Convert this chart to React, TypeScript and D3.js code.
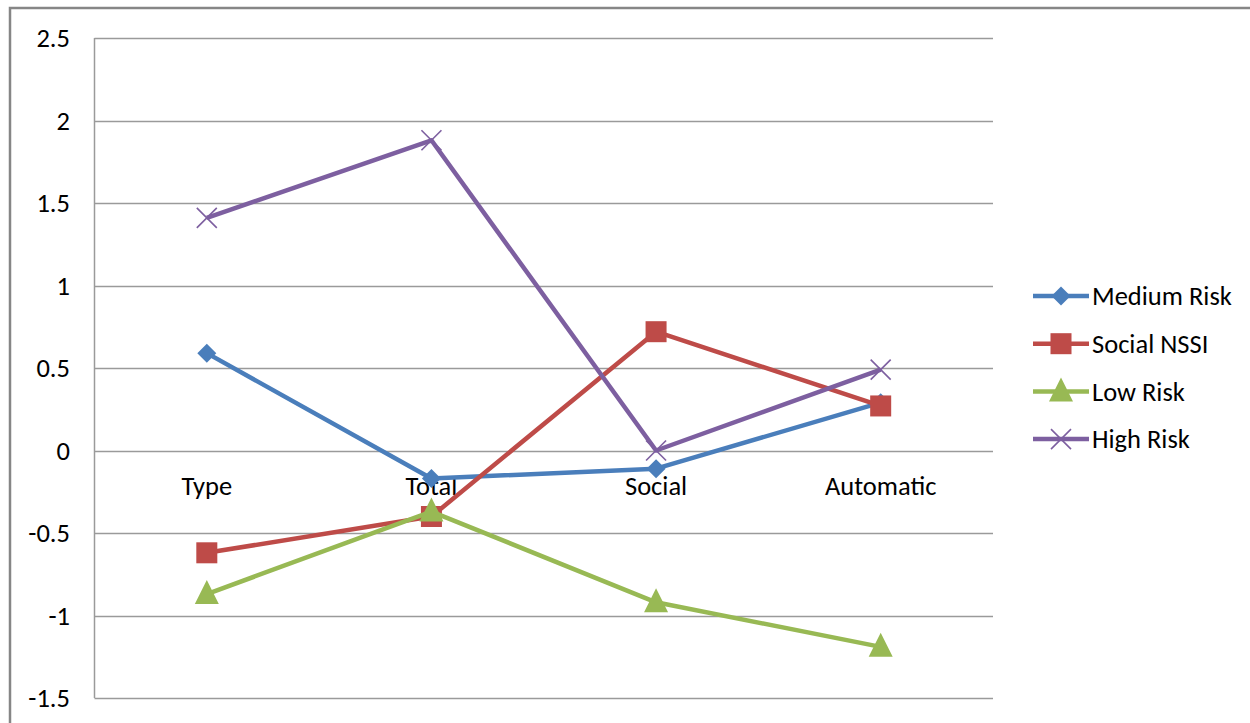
import React from "react";
import * as d3 from "d3";

const categories = ["Type", "Total", "Social", "Automatic"];
const seriesNames = ["Medium Risk", "Social NSSI", "Low Risk", "High Risk"];
const mediumRisk = [0.59, -0.17, -0.11, 0.29];
const socialNSSI = [-0.62, -0.4, 0.72, 0.27];
const lowRisk = [-0.87, -0.37, -0.92, -1.19];
const highRisk = [1.41, 1.88, 0.0, 0.49];
const yTicks = [-1.5, -1, -0.5, 0, 0.5, 1, 1.5, 2, 2.5];
const colors = ["#4A7EBB", "#BE4B48", "#98B954", "#7D5FA0"];
const markers = ["diamond", "square", "triangle", "x"];

const allSeries = [mediumRisk, socialNSSI, lowRisk, highRisk];

function Marker({ type, x, y, color }: { type: string; x: number; y: number; color: string }) {
  if (type === "diamond") {
    const s = 9.5;
    return <path d={`M${x},${y - s}L${x + s},${y}L${x},${y + s}L${x - s},${y}Z`} fill={color} />;
  }
  if (type === "square") {
    const s = 10.5;
    return <rect x={x - s} y={y - s} width={2 * s} height={2 * s} fill={color} />;
  }
  if (type === "triangle") {
    return <path d={`M${x},${y - 14}L${x + 12},${y + 10}L${x - 12},${y + 10}Z`} fill={color} />;
  }
  const s = 10;
  return (
    <path
      d={`M${x - s},${y - s}L${x + s},${y + s}M${x - s},${y + s}L${x + s},${y - s}`}
      stroke={color}
      strokeWidth={1.6}
      fill="none"
    />
  );
}

export default function App() {
  const W = 1250;
  const H = 723;
  const left = 94.5;
  const right = 993;
  const top = 38;
  const bottom = 698;
  const font = "Carlito, Calibri, 'Liberation Sans', sans-serif";
  const fs = 26.5;

  const x = d3.scaleBand<string>().domain(categories).range([left, right]).paddingInner(0).paddingOuter(0);
  const y = d3.scaleLinear().domain([-1.5, 2.5]).range([bottom, top]);
  const cx = (c: string) => (x(c) as number) + x.bandwidth() / 2;
  const line = d3
    .line<number>()
    .x((_, i) => cx(categories[i]))
    .y((d) => y(d));

  return (
    <svg width={W} height={H} style={{ position: "absolute", left: 0, top: 0 }}>
      <rect x={0} y={0} width={W} height={H} fill="#fff" />
      <path d={`M10,${H}L10,8L${W},8`} stroke="#868686" strokeWidth={2.5} fill="none" />
      {yTicks.map((t) => (
        <g key={t}>
          <line x1={left} x2={right} y1={Math.round(y(t)) + 0.5} y2={Math.round(y(t)) + 0.5} stroke="#9a9a9a" strokeWidth={1.5} />
          <text x={70} y={y(t)} dy="0.35em" textAnchor="end" fontFamily={font} fontSize={fs} fill="#000">
            {t}
          </text>
        </g>
      ))}
      <line x1={left} x2={left} y1={top} y2={bottom} stroke="#9a9a9a" strokeWidth={1.5} />
      {categories.map((c) => (
        <text key={c} x={cx(c)} y={y(0) + 35} dy="0.35em" textAnchor="middle" fontFamily={font} fontSize={fs} fill="#000">
          {c}
        </text>
      ))}
      {allSeries.map((s, si) => (
        <g key={seriesNames[si]}>
          <path d={line(s) as string} stroke={colors[si]} strokeWidth={4.5} fill="none" strokeLinejoin="round" />
          {s.map((v, i) => (
            <Marker key={i} type={markers[si]} x={cx(categories[i])} y={y(v)} color={colors[si]} />
          ))}
        </g>
      ))}
      {seriesNames.map((n, i) => {
        const ly = 296 + i * 47.7;
        return (
          <g key={n}>
            <line x1={1033} x2={1089} y1={ly} y2={ly} stroke={colors[i]} strokeWidth={4.5} />
            <Marker type={markers[i]} x={1061} y={ly} color={colors[i]} />
            <text x={1092} y={ly} dy="0.35em" fontFamily={font} fontSize={fs} fill="#000">
              {n}
            </text>
          </g>
        );
      })}
    </svg>
  );
}
